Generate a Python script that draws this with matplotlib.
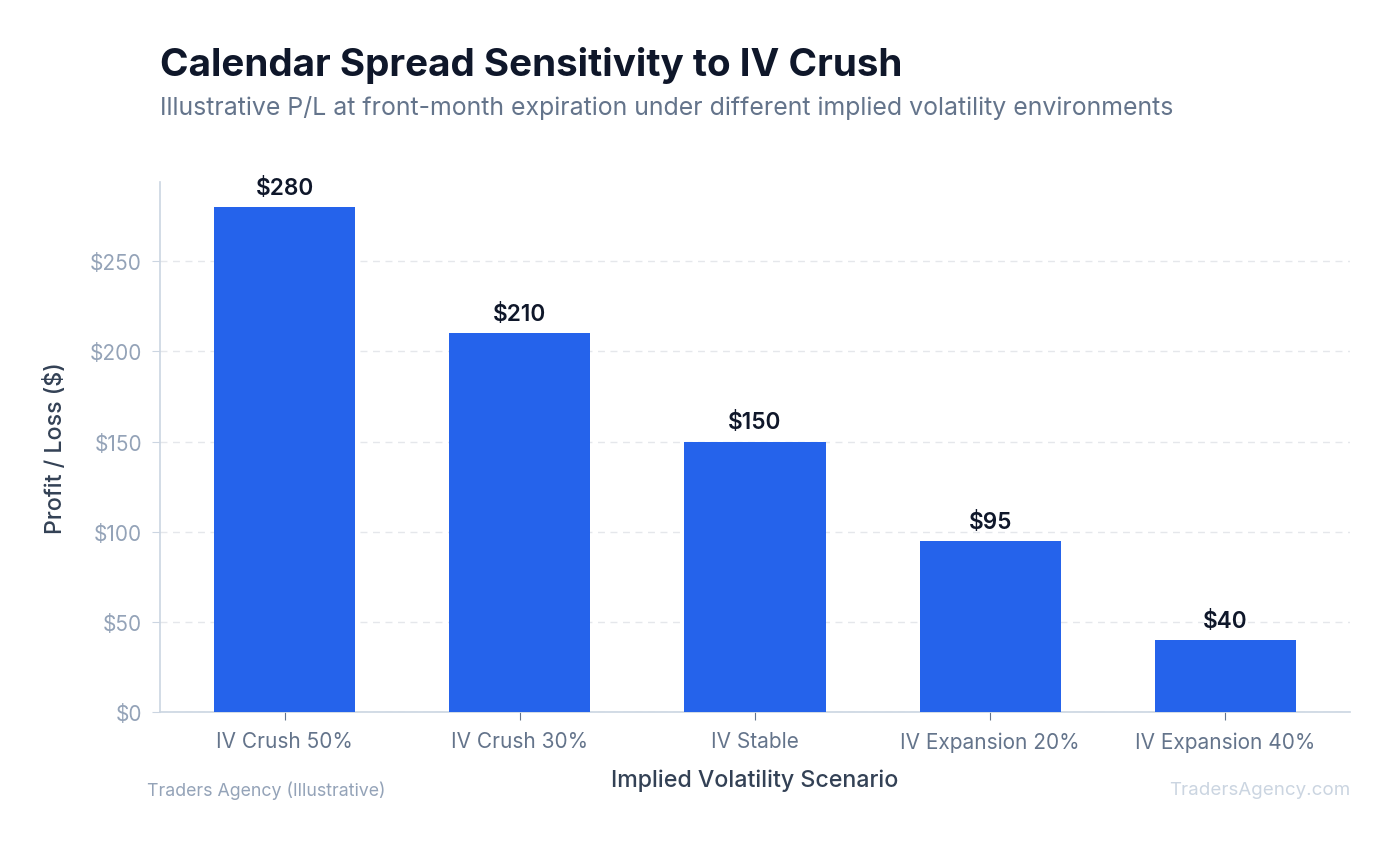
import matplotlib.pyplot as plt
from matplotlib.ticker import FuncFormatter

scenarios = ['IV Crush 50%', 'IV Crush 30%', 'IV Stable', 'IV Expansion 20%', 'IV Expansion 40%']
pnl = [280, 210, 150, 95, 40]

plt.rcParams['font.family'] = ['Inter', 'DejaVu Sans']

fig = plt.figure(figsize=(13.94, 8.45), dpi=100)
ax = fig.add_axes([160/1394, 1-713/845, 1190/1394, 530/845])

x = range(len(scenarios))
bars = ax.bar(x, pnl, width=0.6, color='#2563eb', zorder=3)
for b, v in zip(bars, pnl):
    ax.text(b.get_x() + b.get_width()/2, v + 4.5, f'${v}', ha='center', va='bottom',
            fontsize=16.3, fontweight='semibold', color='#0f172a')

ax.set_xlim(-0.53, 4.53)
ax.set_ylim(0, 294)
ax.set_xticks(list(x))
ax.set_xticklabels(scenarios)
ax.set_yticks([0, 50, 100, 150, 200, 250])
ax.yaxis.set_major_formatter(FuncFormatter(lambda v, p: f'${int(v)}'))
ax.tick_params(axis='y', colors='#cbd5e1', labelcolor='#94a3b8', labelsize=15, length=6, pad=7)
ax.tick_params(axis='x', colors='#64748b', labelcolor='#64748b', labelsize=15, length=6, pad=8)
ax.grid(axis='y', color='#e5e7eb', linestyle=(0, (5, 4)), linewidth=1, zorder=0)
for s in ['top', 'right']:
    ax.spines[s].set_visible(False)
for s in ['left', 'bottom']:
    ax.spines[s].set_color('#cbd5e1')
    ax.spines[s].set_linewidth(1.2)

ax.set_xlabel('Implied Volatility Scenario', fontsize=16.7, fontweight='medium', color='#334155', labelpad=12)
ax.set_ylabel('Profit / Loss ($)', fontsize=16.7, fontweight='medium', color='#334155', labelpad=16)

fig.text(160/1394, 1-65/845, 'Calendar Spread Sensitivity to IV Crush', fontsize=27.8,
         fontweight='bold', color='#0f172a', va='center')
fig.text(160/1394, 1-108/845, 'Illustrative P/L at front-month expiration under different implied volatility environments',
         fontsize=17.9, color='#64748b', va='center')
fig.text(147/1394, 1-791/845, 'Traders Agency (Illustrative)', fontsize=12.8, color='#94a3b8', va='center')
fig.text(1350/1394, 1-791/845, 'TradersAgency.com', fontsize=13.5, color='#cbd5e1', va='center', ha='right')

fig.savefig('out.png', dpi=100)
